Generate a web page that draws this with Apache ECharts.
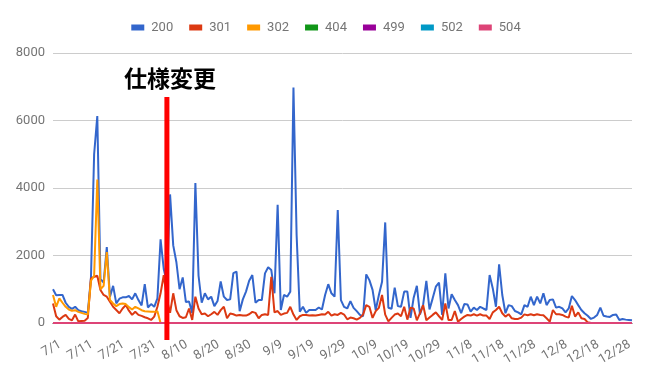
<!DOCTYPE html>
<html><head><meta charset="utf-8">
<script src="https://cdn.jsdelivr.net/npm/echarts@6/dist/echarts.min.js"></script>
<style>html,body{margin:0;padding:0;background:#fff}#c{width:652px;height:371px}</style>
</head><body><div id="c"></div>
<script>
// categories: daily dates 7/1 .. 12/31
const monthDays = [[7,31],[8,31],[9,30],[10,31],[11,30],[12,31]];
const categories = [];
monthDays.forEach(([m,n]) => { for (let d = 1; d <= n; d++) categories.push(m + '/' + d); });

const seriesNames = ['200','301','302','404','499','502','504'];
const colors = ['#3366cc','#dc3912','#ff9900','#109618','#990099','#0099c6','#dd4477'];

const s200 = [
1000,820,830,830,600,480,420,480,380,350,
330,300,1350,5000,6130,1300,1200,2250,780,1100,
580,720,760,760,800,700,880,680,520,1150,
460,560,480,730,2480,1600,1200,3810,2300,1800,
1000,1350,620,640,300,4150,1400,600,880,700,
780,500,650,1230,780,680,700,1480,1520,350,
700,930,1250,1420,600,680,680,1470,1650,1570,
880,3500,385,830,780,930,6980,2600,335,480,
300,385,385,385,460,400,830,1150,880,780,
3350,680,480,430,650,450,350,240,200,1440,
1270,980,385,830,1220,2980,450,420,1050,500,
480,930,930,150,750,1100,250,550,1250,400,
730,1075,1200,240,1470,430,850,680,530,290,
560,550,335,455,385,480,430,385,1420,1025,
480,1740,830,290,530,500,355,315,255,530,
480,780,530,780,580,880,530,680,700,455,
480,430,315,430,800,680,530,385,290,215,
120,160,240,455,215,190,180,240,255,90,
120,100,90,80];

const s301 = [
580,200,100,180,240,120,80,250,50,60,
70,150,1320,1370,1400,980,830,780,630,480,
385,290,430,530,365,240,335,240,210,170,
140,90,190,480,880,1420,700,300,880,380,
200,150,170,430,90,780,430,260,280,200,
260,330,240,380,480,140,280,260,220,240,
220,220,260,330,300,140,240,260,240,1370,
315,355,240,280,300,480,250,90,200,240,
240,220,230,220,240,260,250,330,220,260,
240,300,250,110,160,140,100,150,250,530,
480,150,350,450,830,250,50,150,250,280,
200,480,100,450,430,80,290,530,80,160,
240,315,200,90,580,90,90,355,40,120,
190,240,220,260,220,260,220,220,120,315,
385,480,290,190,260,140,120,120,160,255,
230,260,230,260,240,230,140,40,385,260,
260,240,190,160,510,190,315,140,120,20,
0,0,0,0,0,0,0,0,0,0,
0,0,0,0];

const s302head = [
830,480,730,600,480,400,360,380,330,300,
270,250,1250,1400,4250,1000,1100,2100,680,580,
500,560,580,560,470,400,480,430,380,350,
340,330,330,350];
const s302 = s302head.concat(new Array(categories.length - s302head.length).fill(0));
const zeros = new Array(categories.length).fill(0);
const s404 = zeros.slice(), s499 = zeros.slice(), s502 = zeros.slice(), s504 = zeros.slice();

const yTicks = {min: 0, max: 8000, interval: 2000};
// annotation: date, top value, bottom value, text
const marker = [['8/6', 6700, -500]];
const markerText = '仕様変更';

const allData = [s200, s301, s302, s404, s499, s502, s504];
const series = seriesNames.map((name, k) => ({
  name, type: 'line', data: allData[k], symbol: 'none', showSymbol: false,
  lineStyle: {width: 2, color: colors[k]}, itemStyle: {color: colors[k]},
  z: 2 + k, animation: false
}));
series.push({
  name: 'marker', type: 'custom', data: marker, z: 30, clip: false, silent: true,
  encode: {x: 0, y: 1},
  renderItem: function (params, api) {
    const top = api.coord([api.value(0), api.value(1)]);
    const bot = api.coord([api.value(0), api.value(2)]);
    return {
      type: 'group',
      children: [
        {type: 'rect', shape: {x: top[0] - 2.5, y: top[1], width: 5, height: bot[1] - top[1]},
         style: {fill: '#ff0000'}},
        {type: 'text', style: {text: markerText, x: top[0] + 3, y: top[1] - 7,
          align: 'center', verticalAlign: 'bottom', fill: '#000',
          font: 'bold 23px "Noto Sans CJK JP", sans-serif'}}
      ]
    };
  }
});

const chart = echarts.init(document.getElementById('c'), null, {renderer: 'canvas'});
chart.setOption({
  animation: false,
  textStyle: {fontFamily: 'Roboto, sans-serif'},
  color: colors,
  legend: {
    top: 16, left: 'center', icon: 'rect', itemWidth: 13, itemHeight: 6, itemGap: 16,
    textStyle: {color: '#757575', fontSize: 13, padding: [0,0,0,2]},
    data: seriesNames
  },
  grid: {left: 53, right: 20, top: 53, bottom: 48},
  xAxis: {
    type: 'category', data: categories, boundaryGap: false,
    axisTick: {show: false},
    axisLine: {show: true, lineStyle: {color: '#333', width: 1}},
    axisLabel: {interval: 9, rotate: 30, color: '#757575', fontSize: 13, margin: 8,
                verticalAlign: 'top', padding: [8, 0, 0, 0]}
  },
  yAxis: {
    type: 'value', min: yTicks.min, max: yTicks.max, interval: yTicks.interval,
    axisLine: {show: false}, axisTick: {show: false},
    axisLabel: {color: '#757575', fontSize: 13, margin: 8, formatter: v => String(v)},
    splitLine: {lineStyle: {color: '#cccccc', width: 1}}
  },
  series
});
</script>
</body></html>
